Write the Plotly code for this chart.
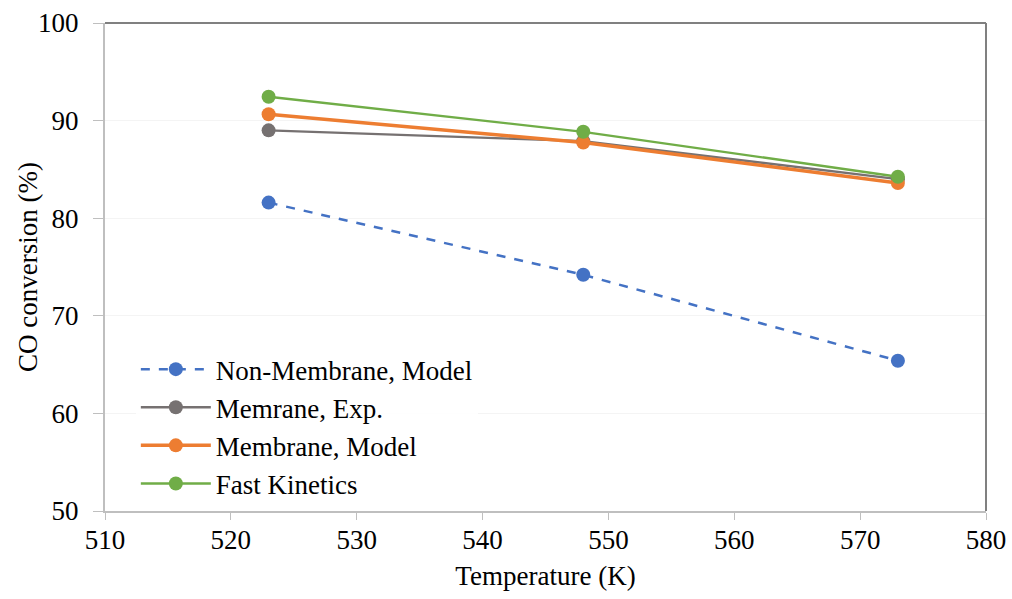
import plotly.graph_objects as go

# Reactor temperature (K) and CO conversion (%) for each case
temperature = [523, 548, 573]
non_membrane_model = [81.6, 74.2, 65.4]
membrane_exp = [89.0, 87.9, 84.0]
membrane_model = [90.65, 87.75, 83.6]
fast_kinetics = [92.45, 88.85, 84.25]

x_ticks = [510, 520, 530, 540, 550, 560, 570, 580]
y_ticks = [50, 60, 70, 80, 90, 100]

series = [
    ("Non-Membrane, Model", non_membrane_model, "#4472C4", 2.5, "dash"),
    ("Memrane, Exp.", membrane_exp, "#767171", 2.4, "solid"),
    ("Membrane, Model", membrane_model, "#ED7D31", 3.5, "solid"),
    ("Fast Kinetics", fast_kinetics, "#70AD47", 2.4, "solid"),
]

fig = go.Figure()
for i, (name, vals, color, width, dash) in enumerate(series):
    fig.add_trace(go.Scatter(
        x=temperature, y=vals, name=name, mode="lines+markers",
        line=dict(color=color, width=width, dash=dash),
        marker=dict(color=color, size=14),
        legendgroup=f"g{i}",
    ))

font = "Liberation Serif, Times New Roman, serif"
fig.update_layout(
    width=1012, height=599,
    margin=dict(l=105, r=26, t=23, b=88, autoexpand=False),
    paper_bgcolor="white", plot_bgcolor="white",
    font=dict(family=font, size=27, color="black"),
    showlegend=True,
    legend=dict(
        x=0.035, y=0.34, xanchor="left", yanchor="top",
        bgcolor="rgba(255,255,255,0.9)",
        font=dict(family=font, size=27, color="black"),
        traceorder="grouped", tracegroupgap=0,
        itemwidth=70,
    ),
    xaxis=dict(
        range=[510, 580], tickvals=x_ticks, ticks="outside", ticklen=7,
        tickcolor="#bfbfbf", showline=True, linecolor="#bfbfbf", linewidth=2,
        showgrid=False, zeroline=False, ticklabelstandoff=-3, automargin=False,
        title=dict(text="Temperature (K)", font=dict(size=27), standoff=12),
        tickfont=dict(size=27),
    ),
    yaxis=dict(
        range=[50, 100], tickvals=y_ticks, ticks="outside", ticklen=10,
        tickcolor="#bfbfbf", showline=True, linecolor="#bfbfbf", linewidth=2,
        showgrid=True, gridcolor="#f4f4f4", gridwidth=1, zeroline=False,
        ticklabelstandoff=9, automargin=False,
        tickfont=dict(size=27),
    ),
    annotations=[dict(
        text="CO conversion (%)", textangle=-90, showarrow=False,
        xref="paper", yref="paper", x=-0.0874, y=0.5,
        xanchor="center", yanchor="middle",
        font=dict(family=font, size=27, color="black"),
    )],
)

# dark frame on the top and right edges of the plotting area
fig.add_shape(type="line", xref="paper", yref="paper", x0=0, x1=1, y0=1, y1=1,
              line=dict(color="#808080", width=2))
fig.add_shape(type="line", xref="paper", yref="paper", x0=1, x1=1, y0=0, y1=1,
              line=dict(color="#808080", width=2))

fig.write_html("out.html")
